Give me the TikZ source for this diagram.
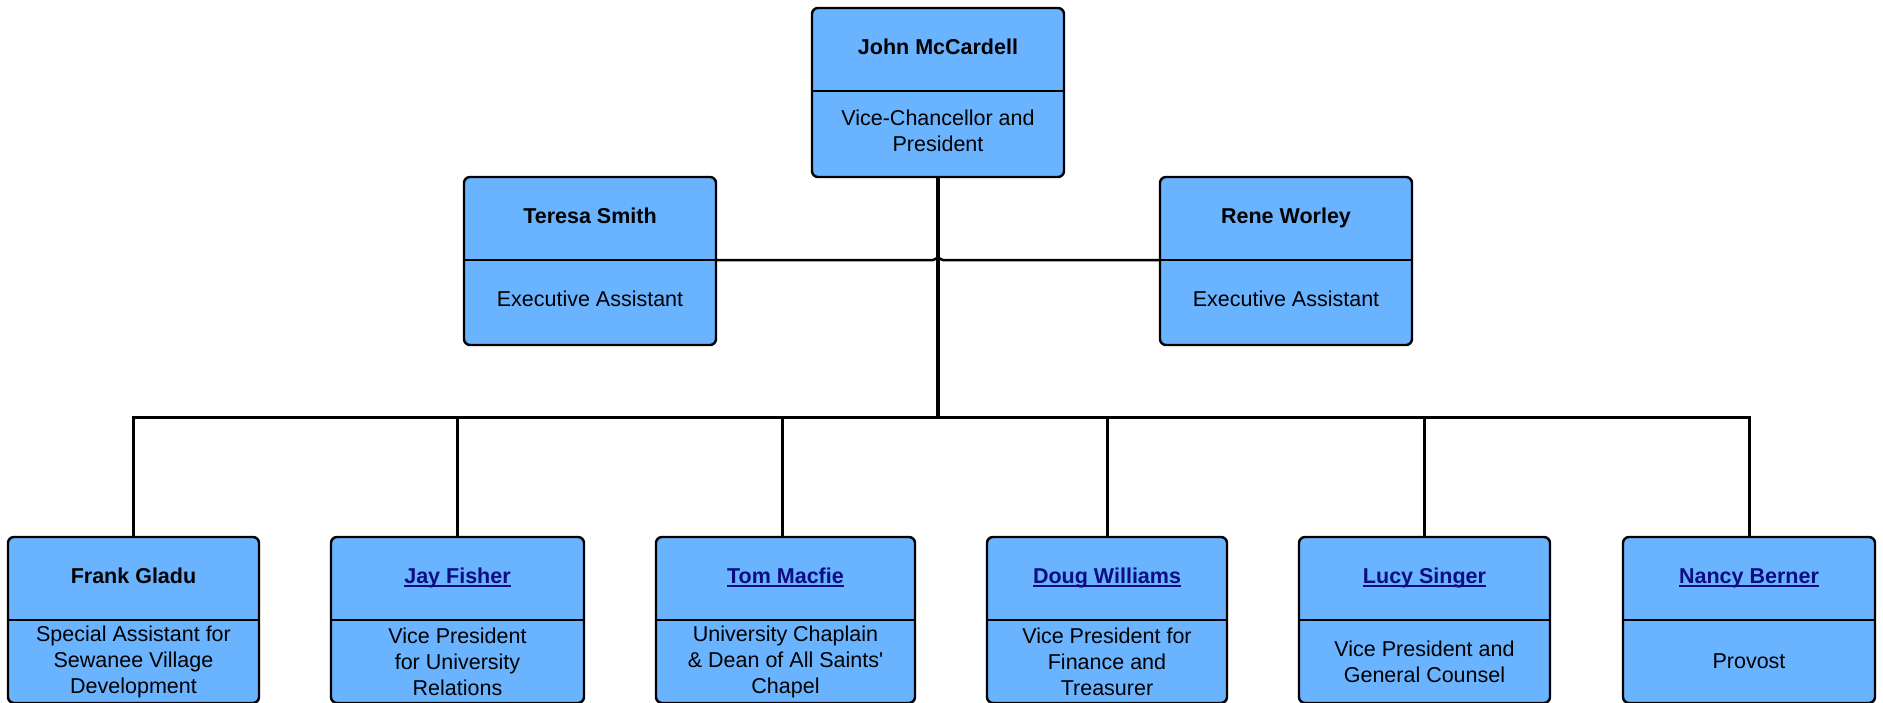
\documentclass[tikz,border=0pt]{standalone}
\usepackage{fontspec}
\setmainfont{Liberation Sans}
\newfontfamily\rawfont{Liberation Sans}[Ligatures=ResetAll]
\definecolor{boxfill}{RGB}{105,179,255}
\definecolor{linkcol}{RGB}{13,13,130}
\newcommand\lnk[1]{{\color{linkcol}\setbox0\hbox{#1}\rlap{\rule[-3.6pt]{\wd0}{1.8pt}}\box0}}
\newcommand\subshift{3.5pt}
\tikzset{
  obox/.style={draw=black, fill=boxfill, line width=2.4pt, rounded corners=6pt, inner sep=0pt, outer sep=0pt},
  divline/.style={draw=black, line width=2.4pt},
  otitle/.style={inner sep=0pt, anchor=base, font=\fontsize{21.5}{26}\selectfont\bfseries, align=center},
  osub/.style={inner sep=0pt, yshift=\subshift, font=\fontsize{21.5}{26}\selectfont, align=center},
  trunk/.style={draw=black, line width=4pt},
  bus/.style={draw=black, line width=3pt},
  branch/.style={draw=black, line width=2.5pt},
}
% #1 name, #2 left, #3 right, #4 top, #5 divider, #6 bottom, #7 title, #8 subtitle
\newcommand\orgbox[8]{%
  \node[obox, minimum width={(#3-#2)*1pt}, minimum height={(#6-#4)*1pt}] (#1) at ({(#2+#3)/2},{(#4+#6)/2}) {};
  \draw[divline] (#2,#5) -- (#3,#5);
  \node[otitle] (#1-t) at ({(#2+#3)/2},{#4+46.5}) {#7};
  \node[osub] (#1-s) at ({(#2+#3)/2},{(#5+#6)/2}) {#8};
}
\begin{document}
\begin{tikzpicture}[x=1pt,y=-1pt]
\useasboundingbox (0,0) rectangle (1883,702);
\orgbox{jm}{812}{1064}{8}{91}{177}{John McCardell}{Vice-Chancellor and\\President}
\orgbox{ts}{464}{716}{177}{260}{345}{Teresa Smith}{Executive Assistant}
\orgbox{rw}{1160}{1412}{177}{260}{345}{Rene Worley}{Executive Assistant}
\renewcommand\subshift{0pt}
\orgbox{fg}{8}{259}{537}{620}{703}{Frank Gladu}{Special Assistant for\\Sewanee Village\\Development}
\orgbox{jf}{331}{584}{537}{620}{703}{\lnk{Jay Fisher}}{Vice President\\for University\\Relations}
\orgbox{tm}{656}{915}{537}{620}{703}{\lnk{Tom Macfie}}{University Chaplain\\\& Dean of All Saints{\rawfont'}\\Chapel}
\orgbox{dw}{987}{1227}{537}{620}{703}{\lnk{Doug Williams}}{Vice President for\\Finance and\\Treasurer}
\orgbox{ls}{1299}{1550}{537}{620}{703}{\lnk{Lucy Singer}}{Vice President and\\General Counsel}
\orgbox{nb}{1623}{1875}{537}{620}{703}{\lnk{Nancy Berner}}{Provost}
\coordinate (hub) at (jm.south |- 0,417);
% assistants
\draw[branch, rounded corners=5pt] ([yshift=1pt]ts.east) -| (jm.south);
\draw[branch, rounded corners=5pt] ([yshift=1pt]rw.west) -| (jm.south);
% trunk and bus
\draw[trunk] (jm.south) -- (hub);
\draw[bus] (fg.north) |- (hub) -| (nb.north);
\draw[branch] (jf.north) -- (jf.north |- hub);
\draw[branch] ([xshift=-3pt]tm.north) -- ([xshift=-3pt]tm.north |- hub);
\draw[branch] ([xshift=0.6pt]dw.north) -- ([xshift=0.6pt]dw.north |- hub);
\draw[branch] (ls.north) -- (ls.north |- hub);
\end{tikzpicture}
\end{document}
